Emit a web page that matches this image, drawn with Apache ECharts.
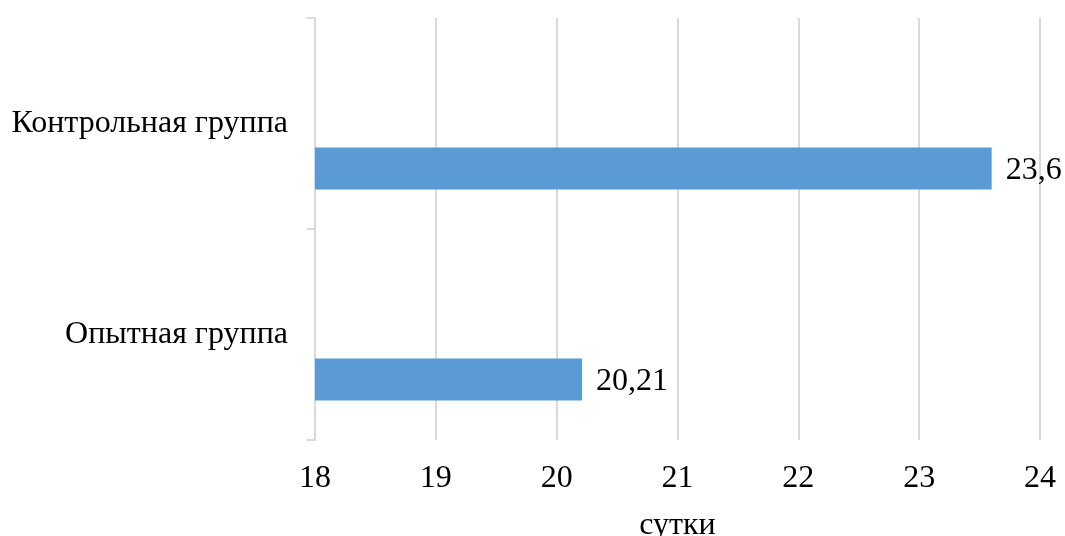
<!DOCTYPE html>
<html>
<head>
<meta charset="utf-8" />
<title></title>
<script src="https://cdn.jsdelivr.net/npm/echarts@6/dist/echarts.min.js"></script>
<style>
  html, body { margin: 0; padding: 0; background: #fff; }
  #main { width: 1065px; height: 536px; }
</style>
</head>
<body>
<div id="main"></div>
<script type="text/javascript">
/* данные */
var groups = ['Опытная группа', 'Контрольная группа'];
var days = [20.21, 23.6];
var emptyRow = [null, null];
var xMin = 18, xMax = 24, xStep = 1;
var xName = 'сутки';

var chart = echarts.init(document.getElementById('main'));
var font = 'Liberation Serif, Times New Roman, serif';

var option = {
    animation: false,
    grid: { left: 315, right: 25, top: 18, bottom: 96, containLabel: false, outerBoundsMode: 'none' },
    xAxis: {
        type: 'value',
        min: xMin, max: xMax, interval: xStep,
        name: xName,
        nameLocation: 'middle',
        nameGap: 70,
        nameTextStyle: { fontFamily: font, fontSize: 32, color: '#000' },
        axisLine: { show: false },
        axisTick: { show: false },
        axisLabel: { fontFamily: font, fontSize: 32, color: '#000', margin: 23 },
        splitLine: { lineStyle: { color: '#d9d9d9', width: 2 } }
    },
    yAxis: {
        type: 'category',
        data: groups,
        axisLine: { show: true, onZero: false, lineStyle: { color: '#d9d9d9', width: 2 } },
        axisTick: { show: true, length: 8, lineStyle: { color: '#d9d9d9', width: 2 } },
        axisLabel: { fontFamily: font, fontSize: 32, color: '#000', margin: 27, padding: [14, 0, 0, 0] }
    },
    series: [
        { type: 'bar', data: emptyRow, barWidth: 42, barGap: '114%' },
        {
            type: 'bar', data: days, barWidth: 42, barGap: '114%',
            itemStyle: { color: '#5b9bd5' },
            label: {
                show: true, position: 'right', distance: 14, offset: [0, 2],
                fontFamily: font, fontSize: 32, color: '#000',
                formatter: function (p) { return String(p.value).replace('.', ','); }
            }
        }
    ]
};
chart.setOption(option);
window.onresize = chart.resize;
</script>
</body>
</html>
